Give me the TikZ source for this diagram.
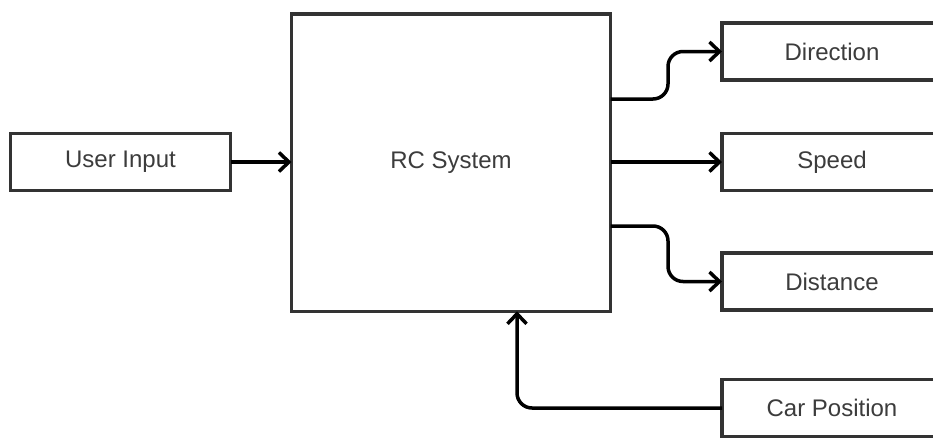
\documentclass[tikz,border=0pt]{standalone}
\usepackage{fontspec}
\setmainfont{Liberation Sans}
\usetikzlibrary{arrows.meta, positioning, calc}
\definecolor{boxgray}{RGB}{51, 51, 51}
\definecolor{textgray}{RGB}{60, 60, 60}

\begin{document}
\begin{tikzpicture}[
  x=1pt, y=-1pt,
  blk/.style={rectangle, draw=boxgray, fill=white, line width=3.5pt, outer sep=0pt,
              minimum width=220pt, minimum height=57pt,
              text=textgray, font=\fontsize{24}{28}\selectfont},
  sysblk/.style={blk, minimum width=319pt, minimum height=297.5pt},
  arr/.style={-{Straight Barb[length=10pt, width=19pt, line width=3.5pt]},
              line width=3.5pt, black, rounded corners=15pt}
]
\clip (0,0) rectangle (933,439);
\useasboundingbox (0,0) rectangle (933,439);
% blocks
\node[sysblk] (rc)     at (451,162.5) {RC System};
\node[blk]    (user)   at (120.5,162) {User Input};
\node[blk]    (dir)    at (832,51.5)  {Direction};
\node[blk]    (speed)  at (832,162)   {Speed};
\node[blk]    (dist)   at (832,281.5) {Distance};
\node[blk]    (carpos) at (832,408)   {Car Position};
% ports on the system block
\coordinate (dirout)  at ([yshift=63.5pt]rc.east);
\coordinate (distout) at ([yshift=-63.5pt]rc.east);
\coordinate (posin)   at ([xshift=66pt]rc.south);
% connectors
\draw[arr] (user) -- (rc.west |- user);
\draw[arr] (dirout) -- ++(57.5,0) |- (dir.west);
\draw[arr] (rc.east |- speed) -- (speed.west);
\draw[arr] (distout) -- ++(57.5,0) |- (dist.west);
\draw[arr] (carpos.west) -| (posin);
\end{tikzpicture}
\end{document}
